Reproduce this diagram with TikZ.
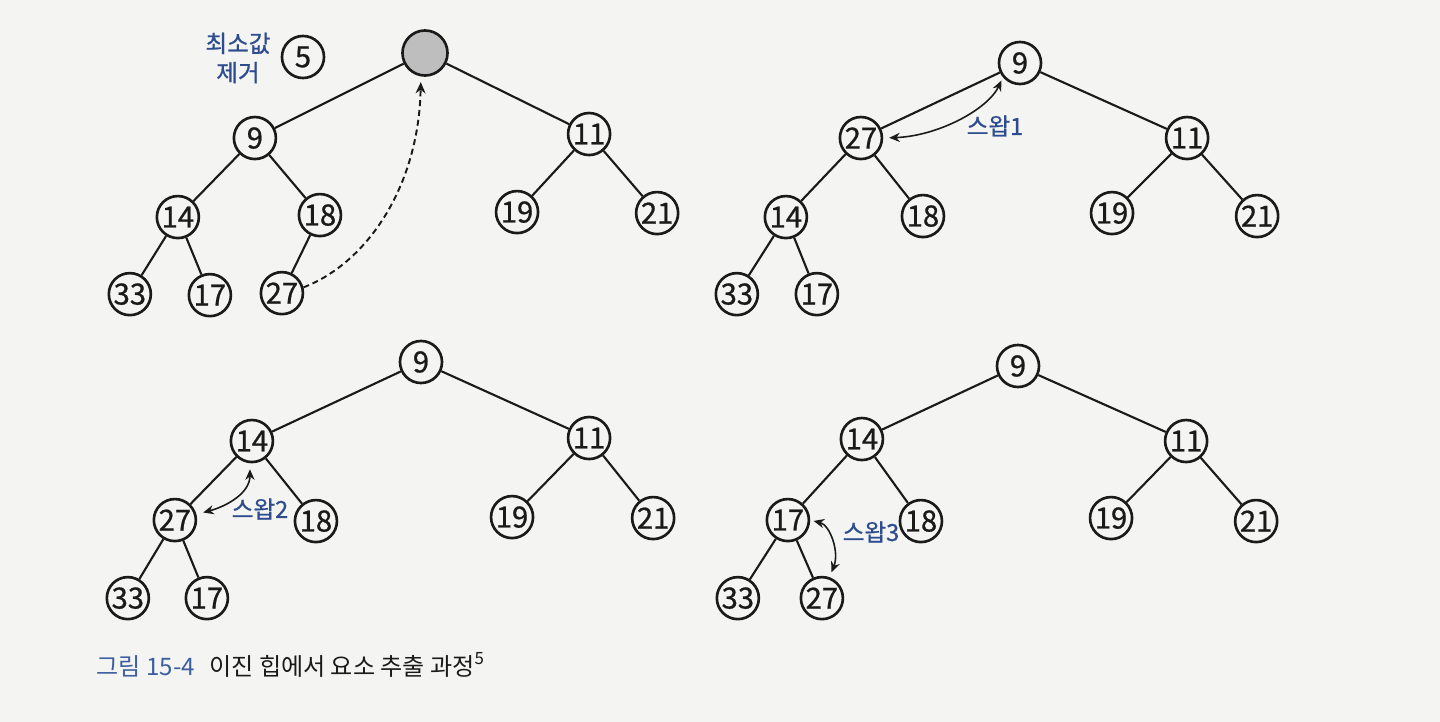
\documentclass[tikz,border=0pt]{standalone}
\usepackage{fontspec}
\usepackage{tikz}
\usetikzlibrary{arrows.meta,positioning}
\newfontfamily\kofont{Noto Sans CJK KR}
\newfontfamily\penfont[FakeBold=0.8]{Noto Sans CJK KR}
\definecolor{PenBlue}{HTML}{2E4D8F}
\definecolor{CapBlue}{HTML}{3B5FA0}
\definecolor{PaperGray}{HTML}{F4F4F2}
\definecolor{RootGray}{HTML}{BEBEBE}
\definecolor{InkBlack}{HTML}{1A1A1A}

\begin{document}
\begin{tikzpicture}[
  x=0.01cm,y=-0.01cm,on grid,
  key/.style={circle,draw=InkBlack,line width=0.75pt,minimum size=0.42cm,inner sep=0pt,text=InkBlack,font=\penfont\fontsize{8.3}{9}\selectfont},
  gone/.style={key,fill=RootGray,minimum size=0.45cm},
  edge/.style={draw=InkBlack,line width=0.6pt},
  swapline/.style={{Stealth[length=3pt,width=2.6pt]}-{Stealth[length=3pt,width=2.6pt]},line width=0.45pt,draw=InkBlack},
  moveline/.style={-{Stealth[length=3.2pt,width=2.8pt]},line width=0.55pt,draw=InkBlack,dash pattern=on 1.7pt off 1.1pt},
  note/.style={text=PenBlue,font=\penfont\fontsize{6.7}{8.3}\selectfont,align=center}
]
\fill[PaperGray] (0,0) rectangle (1440,722);
\useasboundingbox (0,0) rectangle (1440,722);

% tree 1: remove minimum
\node[gone] (r) at (425,53) {};
\node[key] (a5) at (303,57) {5};
\node[note] (lbl) at (238,58) {최소값\\제거};
\node[key,below left=0.85cm and 1.70cm of r] (a9) {9};
\node[key,below right=0.81cm and 1.64cm of r] (a11) {11};
\node[key,below left=0.79cm and 0.77cm of a9] (a14) {14};
\node[key,below right=0.77cm and 0.65cm of a9] (a18) {18};
\node[key,below left=0.78cm and 0.72cm of a11] (a19) {19};
\node[key,below right=0.79cm and 0.68cm of a11] (a21) {21};
\node[key,below left=0.77cm and 0.48cm of a14] (a33) {33};
\node[key,below right=0.78cm and 0.32cm of a14] (a17) {17};
\node[key,below left=0.78cm and 0.38cm of a18] (a27) {27};
\draw[edge] (r)--(a9) (r)--(a11);
\draw[edge] (a9)--(a14) (a9)--(a18) (a11)--(a19) (a11)--(a21);
\draw[edge] (a14)--(a33) (a14)--(a17) (a18)--(a27);
\draw[moveline,shorten >=1.6pt] (a27.15) .. controls +(65,-25) and +(-2,108) .. (r.260);

% tree 2: swap 1
\node[key] (b9) at (1020,63) {9};
\node[key,below left=0.75cm and 1.59cm of b9] (b27) {27};
\node[key,below right=0.75cm and 1.67cm of b9] (b11) {11};
\node[key,below left=0.79cm and 0.75cm of b27] (b14) {14};
\node[key,below right=0.78cm and 0.62cm of b27] (b18) {18};
\node[key,below left=0.75cm and 0.75cm of b11] (b19) {19};
\node[key,below right=0.78cm and 0.70cm of b11] (b21) {21};
\node[key,below left=0.77cm and 0.49cm of b14] (b33) {33};
\node[key,below right=0.77cm and 0.31cm of b14] (b17) {17};
\draw[edge] (b9)--(b27) (b9)--(b11);
\draw[edge] (b27)--(b14) (b27)--(b18) (b11)--(b19) (b11)--(b21);
\draw[edge] (b14)--(b33) (b14)--(b17);
\draw[swapline,shorten <=1.7pt,shorten >=1pt] (b27.east) .. controls +(55,-2) and +(-15,32) .. (b9.220);
\node[note] (s1) at (995,126) {스왑1};

% tree 3: swap 2
\node[key] (c9) at (421,362) {9};
\node[key,below left=0.79cm and 1.69cm of c9] (c14) {14};
\node[key,below right=0.76cm and 1.68cm of c9] (c11) {11};
\node[key,below left=0.79cm and 0.77cm of c14] (c27) {27};
\node[key,below right=0.80cm and 0.64cm of c14] (c18) {18};
\node[key,below left=0.79cm and 0.77cm of c11] (c19) {19};
\node[key,below right=0.80cm and 0.64cm of c11] (c21) {21};
\node[key,below left=0.78cm and 0.47cm of c27] (c33) {33};
\node[key,below right=0.78cm and 0.32cm of c27] (c17) {17};
\draw[edge] (c9)--(c14) (c9)--(c11);
\draw[edge] (c14)--(c27) (c14)--(c18) (c11)--(c19) (c11)--(c21);
\draw[edge] (c27)--(c33) (c27)--(c17);
\draw[swapline,shorten <=2pt,shorten >=1.7pt] (c27.15) .. controls +(30,-8) and +(0,30) .. (c14.265);
\node[note] (s2) at (260,509) {스왑2};

% tree 4: swap 3
\node[key] (d9) at (1018,366) {9};
\node[key,below left=0.73cm and 1.56cm of d9] (d14) {14};
\node[key,below right=0.75cm and 1.68cm of d9] (d11) {11};
\node[key,below left=0.81cm and 0.74cm of d14] (d17) {17};
\node[key,below right=0.82cm and 0.59cm of d14] (d18) {18};
\node[key,below left=0.77cm and 0.75cm of d11] (d19) {19};
\node[key,below right=0.80cm and 0.70cm of d11] (d21) {21};
\node[key,below left=0.78cm and 0.50cm of d17] (d33) {33};
\node[key,below right=0.78cm and 0.34cm of d17] (d27) {27};
\draw[edge] (d9)--(d14) (d9)--(d11);
\draw[edge] (d14)--(d17) (d14)--(d18) (d11)--(d19) (d11)--(d21);
\draw[edge] (d17)--(d33) (d17)--(d27);
\draw[swapline,shorten <=1pt,shorten >=1.5pt] (d17.0) .. controls +(20,5) and +(10,-25) .. (d27.70);
\node[note] (s3) at (871,532) {스왑3};

% caption
\node[anchor=west,inner sep=0pt,font=\kofont\fontsize{6.85}{7.5}\selectfont,text=InkBlack] (cap) at (96,665)
  {\textcolor{CapBlue}{그림 15-4}\hspace{0.6em}이진 힙에서 요소 추출 과정\textsuperscript{5}};
\end{tikzpicture}
\end{document}
